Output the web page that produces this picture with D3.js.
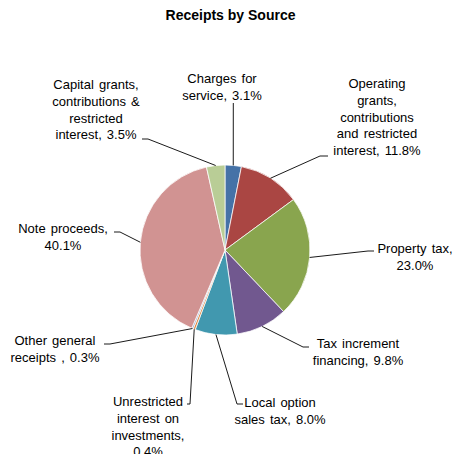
<!DOCTYPE html>
<html>
<head>
<meta charset="utf-8">
<script src="https://cdn.jsdelivr.net/npm/d3@7"></script>
<style>
  html, body { margin: 0; padding: 0; background: #fff; }
  svg { display: block; }
  text { font-family: "Liberation Sans", Arial, sans-serif; fill: #000; }
</style>
</head>
<body>
<div id="chart"></div>
<script>
// ---- data ----
const title = "Receipts by Source";
const categories = [
  "Charges for service",
  "Operating grants, contributions and restricted interest",
  "Property tax",
  "Tax increment financing",
  "Local option sales tax",
  "Unrestricted interest on investments",
  "Other general receipts",
  "Note proceeds",
  "Capital grants, contributions & restricted interest"
];
const values = [3.1, 11.8, 23.0, 9.8, 8.0, 0.4, 0.3, 40.1, 3.5];
// label line breaks ({p} = percentage)
const labelLines = [
  ["Charges for", "service, {p}"],
  ["Operating", "grants,", "contributions", "and restricted", "interest, {p}"],
  ["Property tax,", "{p}"],
  ["Tax increment", "financing, {p}"],
  ["Local option", "sales tax, {p}"],
  ["Unrestricted", "interest on", "investments,", "{p}"],
  ["Other general", "receipts , {p}"],
  ["Note proceeds,", "{p}"],
  ["Capital grants,", "contributions &", "restricted", "interest, {p}"]
];
const colors = ["#4572A7", "#AA4643", "#89A54E", "#71588F", "#4198AF",
                "#DB843D", "#93A9CF", "#D19392", "#B9CD96"];

// ---- layout (label placement) ----
const W = 458, H = 454;
const cx = 225, cy = 250, R = 85;
const lineH = 16.8;
const labelLayout = [
  { tx: 222, ty: 83,  elbow: [233.3, 103], end: [233.3, 103] },
  { tx: 377, ty: 88,  elbow: [320, 156],   end: [328, 156] },
  { tx: 415, ty: 253, elbow: [368, 251],   end: [374, 251] },
  { tx: 358, ty: 348, elbow: [303, 347],   end: [309, 347] },
  { tx: 280, ty: 407, elbow: [237, 404],   end: [243, 404] },
  { tx: 148, ty: 406, elbow: [190, 404],   end: [187, 404] },
  { tx: 55,  ty: 345, elbow: [110, 344],   end: [104, 344] },
  { tx: 63,  ty: 233, elbow: [120, 232],   end: [114, 232] },
  { tx: 96,  ty: 89,  elbow: [148, 139],   end: [142, 139] }
];

const svg = d3.select("#chart").append("svg")
  .attr("width", W).attr("height", H)
  .style("background", "#fff");

svg.append("text")
  .attr("x", 230.5).attr("y", 20)
  .attr("text-anchor", "middle")
  .style("font-size", "14px")
  .style("font-weight", "bold")
  .text(title);

const pie = d3.pie().sort(null).value(d => d);
const arcs = pie(values);
const arc = d3.arc().innerRadius(0).outerRadius(R);

const g = svg.append("g").attr("transform", `translate(${cx},${cy})`);
g.selectAll("path.slice")
  .data(arcs)
  .join("path")
  .attr("class", "slice")
  .attr("d", arc)
  .attr("fill", (d, i) => colors[i])
  .attr("stroke", "#fff")
  .attr("stroke-width", 0.75);

// leader lines
const line = d3.line();
svg.selectAll("path.leader")
  .data(arcs)
  .join("path")
  .attr("class", "leader")
  .attr("d", (d, i) => {
    const mid = (d.startAngle + d.endAngle) / 2;
    const sx = cx + R * Math.sin(mid), sy = cy - R * Math.cos(mid);
    const L = labelLayout[i];
    return line([[sx, sy], L.elbow, L.end]);
  })
  .attr("fill", "none")
  .attr("stroke", "#000")
  .attr("stroke-width", 0.9);

// labels
const fmt = v => d3.format(".1f")(v) + "%";
arcs.forEach((d, i) => {
  const L = labelLayout[i];
  const t = svg.append("text")
    .attr("text-anchor", "middle")
    .style("font-size", "13px")
    .style("word-spacing", "1.5px");
  labelLines[i].forEach((ln, j) => {
    t.append("tspan")
      .attr("x", L.tx)
      .attr("y", L.ty + j * lineH)
      .text(ln.replace("{p}", fmt(values[i])));
  });
});
</script>
</body>
</html>
